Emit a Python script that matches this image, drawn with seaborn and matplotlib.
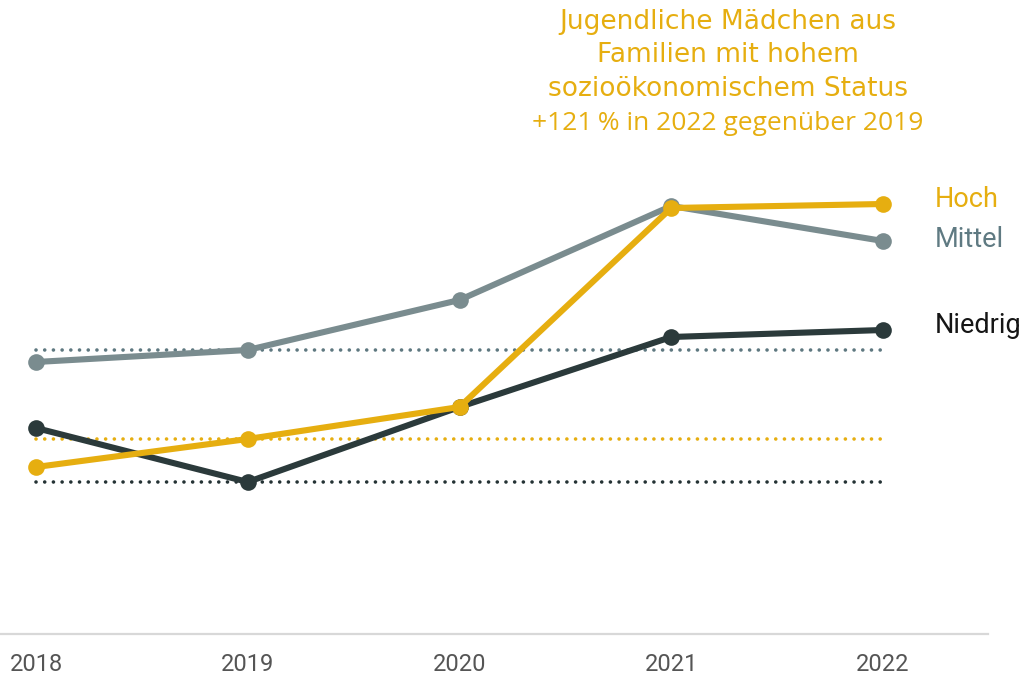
"""
Jugendliche Mädchen nach sozioökonomischem Status, 2018-2022
"""
import numpy as np
import pandas as pd
import matplotlib
matplotlib.use("Agg")
import matplotlib.pyplot as plt
import seaborn as sns

# ── Daten ─────────────────────────────────────────────────────────
years = [2018, 2019, 2020, 2021, 2022]
hoch = [167, 195, 227, 426, 430]
mittel = [272, 284, 334, 428, 393]
niedrig = [206, 152, 227, 297, 304]
groups = ["Niedrig", "Mittel", "Hoch"]
ref_year = 2019

COLORS = {"Hoch": "#E6AE10", "Mittel": "#7A8C8F", "Niedrig": "#2B3A3B"}
DOT_COLORS = {"Hoch": "#E6AE10", "Mittel": "#5E7880", "Niedrig": "#243234"}
LABEL_COLORS = {"Hoch": "#E6AE10", "Mittel": "#5F7A82", "Niedrig": "#151515"}

df = pd.DataFrame({
    "Jahr": years * 3,
    "Wert": niedrig + mittel + hoch,
    "Status": ["Niedrig"] * 5 + ["Mittel"] * 5 + ["Hoch"] * 5,
})

sns.set_theme(style="white")
plt.rcParams["font.family"] = ["Roboto", "DejaVu Sans"]

fig = plt.figure(figsize=(10.24, 6.77), dpi=100, facecolor="white")
ax = fig.add_axes([0, 43 / 677, 988 / 1024, 634 / 677])

# gepunktete Referenzlinien (Wert 2019)
series = {"Hoch": hoch, "Mittel": mittel, "Niedrig": niedrig}
for g in groups:
    v = series[g][years.index(ref_year)]
    ax.plot([years[0], years[-1]], [v, v], color=DOT_COLORS[g], lw=2.6,
            linestyle=(0, (0.01, 2.4)), dash_capstyle="round", zorder=1)

sns.lineplot(data=df, x="Jahr", y="Wert", hue="Status", hue_order=groups,
             palette=COLORS, marker="o", markersize=12, markeredgewidth=0,
             linewidth=4.4, legend=False, ax=ax, zorder=3)

step = (years[-1] - years[0]) / (883 - 36)
ax.set_xlim(years[0] - 36 * step, years[0] + (988 - 36) * step)
ax.set_ylim(0, 634)
ax.set_xticks(years)
ax.set_xticklabels([str(y) for y in years], fontsize=17, color="#555555")
ax.tick_params(axis="x", length=0, pad=14)
ax.set_yticks([])
ax.set_xlabel("")
ax.set_ylabel("")
ax.spines[["top", "right", "left"]].set_visible(False)
ax.spines["bottom"].set_color("#D8D8D8")
ax.spines["bottom"].set_linewidth(1.6)
ax.set_facecolor("white")

# Beschriftungen rechts
label_y = {"Hoch": 207, "Mittel": 247, "Niedrig": 333}
for g in ["Hoch", "Mittel", "Niedrig"]:
    fig.text(935 / 1024, 1 - label_y[g] / 677, g, fontsize=19.5,
             color=LABEL_COLORS[g], ha="left", va="baseline")

# Titel
title_lines = ["Jugendliche Mädchen aus", "Familien mit hohem",
               "sozioökonomischem Status"]
for i, line in enumerate(title_lines):
    fig.text(728 / 1024, 1 - (29 + 33.5 * i) / 677, line, fontsize=19,
             color="#E6AE10", ha="center", va="baseline",
             family=["DejaVu Sans"])
fig.text(728 / 1024, 1 - 130 / 677, "+121\u202f% in 2022 gegenüber 2019",
         fontsize=19, color="#E6AE10", ha="center", va="baseline",
         family=["Open Sans", "DejaVu Sans"])

plt.savefig("out.png", dpi=100, facecolor="white")
plt.close()
